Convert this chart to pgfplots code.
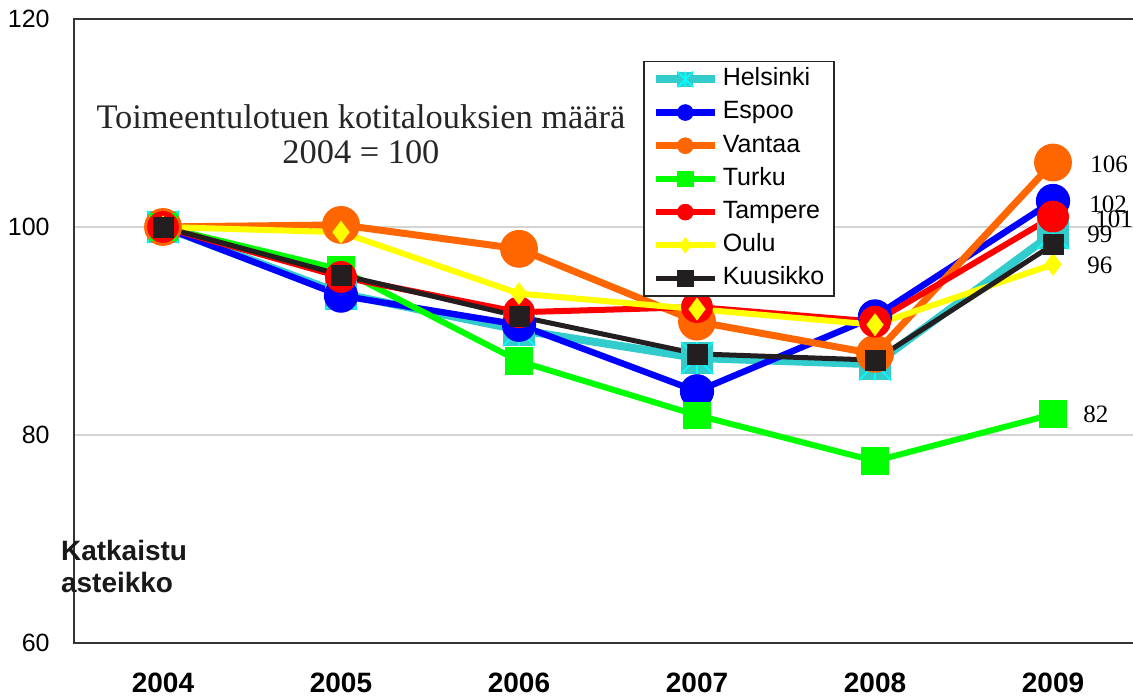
\documentclass[border=0pt]{standalone}
\usepackage{fontspec}
\setmainfont{Liberation Sans}
\newfontfamily\serifa{Liberation Serif}
\usepackage{pgfplots}
\pgfplotsset{compat=1.18}
\definecolor{hcyan}{HTML}{33CCCC}
\definecolor{hcyanl}{HTML}{00FFFF}
\definecolor{espoo}{HTML}{0000FF}
\definecolor{vantaa}{HTML}{FF6600}
\definecolor{turku}{HTML}{00FF00}
\definecolor{tampere}{HTML}{FF0000}
\definecolor{oulu}{HTML}{FFFF00}
\definecolor{kuus}{HTML}{231F20}
\definecolor{axgray}{HTML}{333333}
\definecolor{grgray}{HTML}{D4D4D4}

\pgfdeclareplotmark{sqast}{%
  \pgfpathrectangle{\pgfqpoint{-\pgfplotmarksize}{-\pgfplotmarksize}}{\pgfqpoint{2\pgfplotmarksize}{2\pgfplotmarksize}}%
  \pgfusepathqfill
  \pgfsetlinewidth{0.8pt}%
  \pgfsetstrokecolor{hcyanl}%
  \pgfpathmoveto{\pgfqpoint{-\pgfplotmarksize}{-\pgfplotmarksize}}\pgfpathlineto{\pgfqpoint{\pgfplotmarksize}{\pgfplotmarksize}}%
  \pgfpathmoveto{\pgfqpoint{-\pgfplotmarksize}{\pgfplotmarksize}}\pgfpathlineto{\pgfqpoint{\pgfplotmarksize}{-\pgfplotmarksize}}%
  \pgfpathmoveto{\pgfqpoint{0pt}{-\pgfplotmarksize}}\pgfpathlineto{\pgfqpoint{0pt}{\pgfplotmarksize}}%
  \pgfusepathqstroke
}

\begin{document}
\begin{tikzpicture}
\begin{axis}[
  name=ax,
  scale only axis,
  width=534pt, height=312pt,
  xmin=-0.5, xmax=5.5, ymin=60, ymax=120,
  clip=false,
  xtick={0,1,2,3,4,5},
  xticklabels={2004,2005,2006,2007,2008,2009},
  ytick={60,80,100,120},
  major tick length=0pt,
  ymajorgrids,
  grid style={grgray, line width=1pt},
  axis line style={axgray, line width=1pt},
  /pgf/number format/assume math mode=true,
  xticklabel style={font=\bfseries\fontsize{14}{14}\selectfont, inner sep=0pt, anchor=north, yshift=-14.8pt},
  yticklabel style={font=\fontsize{12.5}{14}\selectfont, inner sep=0pt, anchor=east, xshift=-12pt},
  legend style={at={(0.5328,0.9327)}, anchor=north west, draw=black!85, line width=0.75pt,
    font=\fontsize{12.5}{14}\selectfont, inner xsep=4pt, inner ysep=0.5pt, row sep=0pt,
    nodes={text height=9pt, text depth=2.6pt, inner ysep=2.5pt, inner xsep=1pt},
    /tikz/every odd column/.append style={column sep=1pt}},
  legend cell align=left,
  legend image code/.code={\draw[mark repeat=2,mark phase=2,#1] plot coordinates {(0pt,0pt) (14.75pt,0pt) (29.5pt,0pt)};},
  every legend image post/.style={mark size=3.9pt},
]
\addplot[hcyan, line width=4pt, mark=sqast, mark size=8pt, mark options={fill=hcyan, line width=0.8pt}]
  coordinates {(0,100) (1,93.6) (2,90.1) (3,87.4) (4,86.8) (5,99.4)};
\addlegendentry{Helsinki}
\addplot[espoo, line width=3.2pt, mark=*, mark size=8.3pt, mark options={fill=espoo, line width=0.5pt}]
  coordinates {(0,100) (1,93.4) (2,90.6) (3,84.2) (4,91.4) (5,102.5)};
\addlegendentry{Espoo}
\addplot[vantaa, line width=3.5pt, mark=*, mark size=9.2pt, mark options={fill=vantaa, line width=0.5pt}]
  coordinates {(0,100) (1,100.2) (2,97.9) (3,90.9) (4,87.8) (5,106.2)};
\addlegendentry{Vantaa}
\addplot[turku, line width=3pt, mark=square*, mark size=6.7pt, mark options={fill=turku, line width=0.3pt}]
  coordinates {(0,100) (1,95.9) (2,87.1) (3,81.9) (4,77.5) (5,82.0)};
\addlegendentry{Turku}
\addplot[tampere, line width=3pt, mark=*, mark size=7.7pt, mark options={fill=tampere, line width=0.5pt}]
  coordinates {(0,100) (1,95.2) (2,91.8) (3,92.3) (4,90.9) (5,101.0)};
\addlegendentry{Tampere}
\addplot[oulu, line width=3pt, mark=diamond*, mark size=5.5pt, mark options={fill=oulu, line width=0.3pt}]
  coordinates {(0,100) (1,99.5) (2,93.6) (3,92.1) (4,90.6) (5,96.4)};
\addlegendentry{Oulu}
\addplot[kuus, line width=2.5pt, mark=square*, mark size=5pt, mark options={fill=kuus, line width=0.3pt}]
  coordinates {(0,100) (1,95.4) (2,91.4) (3,87.8) (4,87.2) (5,98.3)};
\addlegendentry{Kuusikko}

\node[anchor=base, inner sep=0pt, font=\serifa\fontsize{17.2}{17}\selectfont, text=black!85] at (axis cs:1.112,109.5) {Toimeentulotuen kotitalouksien määrä};
\node[anchor=base, inner sep=0pt, font=\serifa\fontsize{17.2}{17}\selectfont, text=black!85] at (axis cs:1.112,106.1) {2004 = 100};

\node[anchor=base west, inner sep=0pt, font=\bfseries\fontsize{14}{14}\selectfont, text=black!90] at (axis cs:-0.575,67.92) {Katkaistu};
\node[anchor=base west, inner sep=0pt, font=\bfseries\fontsize{14}{14}\selectfont, text=black!90] at (axis cs:-0.575,64.83) {asteikko};

\node[anchor=west, inner sep=0pt, font=\serifa\fontsize{12.5}{14}\selectfont] at (axis cs:5.208,105.99) {106};
\node[anchor=west, inner sep=0pt, font=\serifa\fontsize{12.5}{14}\selectfont] at (axis cs:5.202,102.22) {102};
\node[anchor=west, inner sep=0pt, font=\serifa\fontsize{12.5}{14}\selectfont] at (axis cs:5.236,100.77) {101};
\node[anchor=west, inner sep=0pt, font=\serifa\fontsize{12.5}{14}\selectfont] at (axis cs:5.191,99.32) {99};
\node[anchor=west, inner sep=0pt, font=\serifa\fontsize{12.5}{14}\selectfont] at (axis cs:5.191,96.33) {96};
\node[anchor=west, inner sep=0pt, font=\serifa\fontsize{12.5}{14}\selectfont] at (axis cs:5.169,82.03) {82};
\end{axis}
\pgfresetboundingbox
\path[use as bounding box] ([xshift=-37pt,yshift=-27pt]ax.south west) rectangle ([xshift=529.5pt,yshift=9.5pt]ax.north west);
\end{tikzpicture}
\end{document}
